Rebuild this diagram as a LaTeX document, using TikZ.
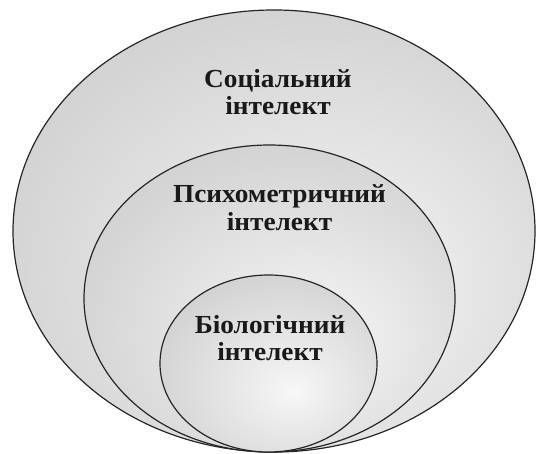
\documentclass[tikz,border=0pt]{standalone}
\usepackage{fontspec}
\setmainfont{Liberation Serif}
\pgfdeclareradialshading{lightball}{\pgfpoint{6bp}{-8bp}}{%
  color(0bp)=(white!97!black);
  color(8bp)=(white!93!black);
  color(30bp)=(white!83!black);
  color(50bp)=(white!79!black);
  color(80bp)=(white!78!black)}
\tikzset{
  ring/.style={draw=black!85, line width=1.2pt, shading=lightball},
  lbl/.style={font=\bfseries\fontsize{26}{28}\selectfont, text=black!90, inner sep=0pt, anchor=base, xscale=1.05}
}
\begin{document}
\begin{tikzpicture}[x=1pt,y=-1pt]
\useasboundingbox[fill=white] (0,0) rectangle (537,454);
\path[ring] (274,231) ellipse [x radius=261, y radius=221];
\path[ring] (269.5,298.5) ellipse [x radius=185.5, y radius=153.5];
\path[ring] (268.5,363.5) ellipse [x radius=108.5, y radius=88.5];
\node[lbl] (s1) at (278,88) {Соціальний};
\node[lbl] (s2) at (278,115) {інтелект};
\node[lbl] (p1) at (279.5,202) {Психометричний};
\node[lbl] (p2) at (279.5,230) {інтелект};
\node[lbl] (b1) at (270,333) {Біологічний};
\node[lbl] (b2) at (270,360) {інтелект};
\end{tikzpicture}
\end{document}
